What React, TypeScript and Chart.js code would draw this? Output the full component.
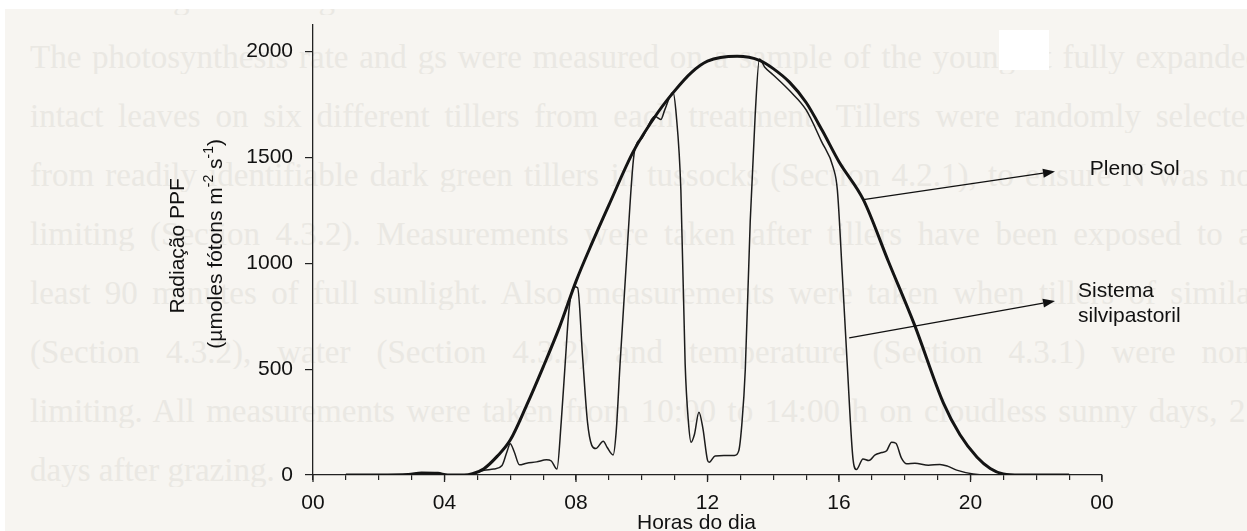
import React, { useEffect, useRef } from 'react';
import { Chart, registerables } from 'chart.js';

Chart.register(...registerables);

// ---------- data (hour of day, PPF in µmol m-2 s-1) ----------
const plenoSolHours = [1, 2, 2.9, 3.3, 3.8, 4.1, 4.6, 4.85, 5.2, 5.6, 6.0, 6.5, 7.0, 7.5, 8.0, 8.5, 9.0, 9.75, 10.5, 11.0, 11.5, 12.0, 12.9, 13.6, 14.0, 14.5, 15.0, 15.5, 16.0, 16.74, 17.5, 18.3, 19.17, 19.68, 20.2, 20.6, 21.0, 21.5, 22, 23];
const plenoSolValues = [0, 0, 2, 10, 8, 0, 0, 6, 30, 88, 165, 330, 510, 700, 915, 1100, 1275, 1530, 1715, 1815, 1900, 1955, 1978, 1958, 1920, 1855, 1760, 1625, 1480, 1301, 1010, 708, 342, 190, 84, 31, 5, 0, 0, 0];

const silviHours = [1, 2, 2.9, 3.3, 3.8, 4.1, 4.6, 4.85, 5.2, 5.5, 5.75, 5.9, 6.0, 6.12, 6.28, 6.5, 6.8, 7.1, 7.25, 7.42, 7.55, 7.67, 7.79, 7.95, 8.05, 8.2, 8.35, 8.48, 8.6, 8.83, 8.95, 9.13, 9.22, 9.34, 9.55, 9.78, 10.0, 10.4, 10.58, 10.7, 10.95, 11.05, 11.19, 11.32, 11.42, 11.5, 11.6, 11.74, 11.86, 12.0, 12.05, 12.23, 12.5, 12.82, 12.95, 13.05, 13.15, 13.3, 13.45, 13.58, 13.75, 14.0, 14.5, 15.0, 15.47, 15.83, 15.95, 16.1, 16.25, 16.43, 16.53, 16.73, 16.91, 17.1, 17.3, 17.45, 17.6, 17.73, 17.9, 18.06, 18.31, 18.72, 19.07, 19.3, 19.58, 20.08, 20.5, 21, 23];
const silviValues = [0, 0, 2, 10, 8, 0, 0, 5, 22, 28, 45, 110, 148, 110, 48, 56, 62, 72, 66, 28, 250, 525, 785, 890, 885, 560, 250, 140, 125, 160, 130, 95, 200, 525, 1050, 1530, 1590, 1695, 1680, 1725, 1808, 1700, 1347, 525, 250, 155, 190, 297, 220, 70, 60, 90, 92, 92, 114, 250, 500, 1200, 1700, 1965, 1925, 1890, 1815, 1725, 1575, 1450, 1347, 950, 525, 70, 26, 76, 68, 95, 106, 115, 155, 150, 80, 53, 56, 46, 50, 42, 23, 5, 0, 0, 0];

const seriesNames = ['Pleno Sol', 'Sistema silvipastoril'];
const hourTickValues = [0, 4, 8, 12, 16, 20, 24];
const hourTickLabels = ['00', '04', '08', '12', '16', '20', '00'];
const radiationTicks = [0, 500, 1000, 1500, 2000];
const xAxisTitle = 'Horas do dia';
const yAxisTitle = 'Radiação PPF';
const yAxisUnitParts = [
  { text: '(µmoles fótons m', sup: false },
  { text: '-2', sup: true },
  { text: ' s', sup: false },
  { text: '-1', sup: true },
  { text: ')', sup: false },
];

// annotation anchors, in data units (hour, PPF)
const annotations = {
  arrows: [
    { from: [16.74, 1301], to: [22.57, 1434] },
    { from: [16.31, 648], to: [22.57, 822] },
  ],
  labels: [
    { at: [23.63, 1443], lines: ['Pleno Sol'] },
    { at: [23.27, 810], lines: ['Sistema', 'silvipastoril'] },
  ],
};

// faded page text behind the figure (scanned document)
const pageLines = [
  '4.3.4  Leaf gas exchange measurements',
  'The photosynthesis rate and gs were measured on a sample of the youngest fully expanded',
  'intact leaves on six different tillers from each treatment. Tillers were randomly selected',
  'from readily identifiable dark green tillers in tussocks (Section 4.2.1), to ensure N was not',
  'limiting (Section 4.3.2). Measurements were taken after tillers have been exposed to at',
  'least 90 minutes of full sunlight. Also, measurements were taken when tillers of similar',
  '(Section 4.3.2), water (Section 4.3.2) and temperature (Section 4.3.1) were non-',
  'limiting. All measurements were taken from 10:00 to 14:00 h on cloudless sunny days, 21',
  'days after grazing.',
];

const SANS = '"Liberation Sans", Arial, sans-serif';

export default function App() {
  const canvasRef = useRef<HTMLCanvasElement>(null);

  useEffect(() => {
    document.body.style.margin = '0';
    const canvas = canvasRef.current;
    if (!canvas) return;

    const figurePlugin = {
      id: 'figureAnnotations',
      afterDraw(chart: any) {
        const ctx = chart.ctx as CanvasRenderingContext2D;
        const xs = chart.scales.x;
        const ys = chart.scales.y;
        const area = chart.chartArea;
        ctx.save();

        // longer major ticks
        ctx.strokeStyle = '#222';
        ctx.lineWidth = 1.3;
        hourTickValues.forEach((h) => {
          const px = xs.getPixelForValue(h);
          ctx.beginPath();
          ctx.moveTo(px, area.bottom);
          ctx.lineTo(px, area.bottom + 7);
          ctx.stroke();
        });

        // arrows
        ctx.strokeStyle = '#111';
        ctx.fillStyle = '#111';
        ctx.lineWidth = 1.3;
        annotations.arrows.forEach((a) => {
          const x1 = xs.getPixelForValue(a.from[0]);
          const y1 = ys.getPixelForValue(a.from[1]);
          const x2 = xs.getPixelForValue(a.to[0]);
          const y2 = ys.getPixelForValue(a.to[1]);
          const ang = Math.atan2(y2 - y1, x2 - x1);
          const headLen = 12;
          const headHalf = 4.5;
          const bx = x2 - headLen * Math.cos(ang);
          const by = y2 - headLen * Math.sin(ang);
          ctx.beginPath();
          ctx.moveTo(x1, y1);
          ctx.lineTo(bx, by);
          ctx.stroke();
          ctx.beginPath();
          ctx.moveTo(x2, y2);
          ctx.lineTo(bx + headHalf * Math.sin(ang), by - headHalf * Math.cos(ang));
          ctx.lineTo(bx - headHalf * Math.sin(ang), by + headHalf * Math.cos(ang));
          ctx.closePath();
          ctx.fill();
        });

        // series labels
        ctx.font = `21px ${SANS}`;
        ctx.textAlign = 'left';
        ctx.textBaseline = 'middle';
        annotations.labels.forEach((l) => {
          const x = xs.getPixelForValue(l.at[0]);
          const y = ys.getPixelForValue(l.at[1]);
          const lh = 25;
          l.lines.forEach((t, i) => {
            ctx.fillText(t, x, y + (i - (l.lines.length - 1) / 2) * lh);
          });
        });

        // x axis title
        ctx.textAlign = 'center';
        ctx.fillText(xAxisTitle, (area.left + area.right) / 2 - 11, area.bottom + 48);

        // y axis title (rotated, two lines)
        const cy = (area.top + area.bottom) / 2 - 4;
        ctx.save();
        ctx.translate(area.left - 135, cy);
        ctx.rotate(-Math.PI / 2);
        ctx.textAlign = 'center';
        ctx.fillText(yAxisTitle, 0, 0);
        ctx.restore();

        ctx.save();
        ctx.translate(area.left - 97, cy - 2);
        ctx.rotate(-Math.PI / 2);
        ctx.textAlign = 'left';
        const mainFont = `21px ${SANS}`;
        const supFont = `14px ${SANS}`;
        let total = 0;
        yAxisUnitParts.forEach((p) => {
          ctx.font = p.sup ? supFont : mainFont;
          total += ctx.measureText(p.text).width;
        });
        let cx = -total / 2;
        yAxisUnitParts.forEach((p) => {
          ctx.font = p.sup ? supFont : mainFont;
          ctx.fillText(p.text, cx, p.sup ? -7 : 0);
          cx += ctx.measureText(p.text).width;
        });
        ctx.restore();

        ctx.restore();
      },
    };

    const chart = new Chart(canvas, {
      type: 'line',
      data: {
        datasets: [
          {
            label: seriesNames[0],
            data: plenoSolHours.map((h, i) => ({ x: h, y: plenoSolValues[i] })),
            borderColor: '#141414',
            borderWidth: 3,
            pointRadius: 0,
            fill: false,
            cubicInterpolationMode: 'monotone',
          },
          {
            label: seriesNames[1],
            data: silviHours.map((h, i) => ({ x: h, y: silviValues[i] })),
            borderColor: '#1c1c1c',
            borderWidth: 1.5,
            pointRadius: 0,
            fill: false,
            cubicInterpolationMode: 'monotone',
          },
        ],
      },
      options: {
        responsive: false,
        animation: false,
        events: [],
        layout: { padding: { left: 0, top: 9, right: 145, bottom: 0 } },
        plugins: { legend: { display: false }, tooltip: { enabled: false } },
        scales: {
          x: {
            type: 'linear',
            min: 0,
            max: 24,
            afterBuildTicks: (s: any) => {
              const t: any[] = [];
              for (let h = 0; h <= 24; h++) t.push({ value: h });
              s.ticks = t;
            },
            afterFit: (s: any) => {
              s.height = 56;
            },
            grid: { drawOnChartArea: false, drawTicks: true, tickLength: 5, color: '#222', lineWidth: 1.2 },
            border: { display: true, color: '#222', width: 1.3 },
            ticks: {
              autoSkip: false,
              maxRotation: 0,
              padding: 11,
              color: '#111',
              font: { family: SANS, size: 21 },
              callback: (v: any) => {
                const i = hourTickValues.indexOf(Number(v));
                return i >= 0 ? hourTickLabels[i] : '';
              },
            },
          },
          y: {
            type: 'linear',
            min: 0,
            max: 2128,
            afterBuildTicks: (s: any) => {
              s.ticks = radiationTicks.map((v) => ({ value: v }));
            },
            afterFit: (s: any) => {
              s.width = 313;
            },
            grid: { drawOnChartArea: false, drawTicks: true, tickLength: 8, color: '#222', lineWidth: 1.2 },
            border: { display: true, color: '#222', width: 1.3 },
            ticks: {
              padding: 12,
              color: '#111',
              font: { family: SANS, size: 21 },
              callback: (v: any) => String(v),
            },
          },
        },
      },
      plugins: [figurePlugin],
    } as any);

    return () => chart.destroy();
  }, []);

  const baseline = (i: number) => (i === 0 ? 10 : 69 + 59 * (i - 1));

  return (
    <div style={{ position: 'absolute', left: 0, top: 0, width: 1247, height: 531, background: '#ffffff', overflow: 'hidden' }}>
      <div style={{ position: 'absolute', left: 5, top: 9, width: 1242, height: 522, background: 'rgb(247,245,241)', overflow: 'hidden' }}>
        {pageLines.map((t, i) => (
          <div
            key={i}
            style={{
              position: 'absolute',
              left: 30 - 5,
              top: baseline(i) - 27.6 - 9,
              width: 1232,
              height: 33,
              overflow: 'hidden',
              fontFamily: '"Liberation Serif", "Times New Roman", serif',
              fontSize: 33,
              lineHeight: '33px',
              color: 'rgb(234,232,227)',
              textAlign: i === 0 || i === pageLines.length - 1 ? 'left' : 'justify',
              textAlignLast: i === 0 || i === pageLines.length - 1 ? 'left' : 'justify',
            } as any}
          >
            {t}
          </div>
        ))}
      </div>
      <div style={{ position: 'absolute', left: 999, top: 30, width: 50, height: 40, background: '#ffffff' }} />
      <canvas ref={canvasRef} width={1247} height={531} style={{ position: 'absolute', left: 0, top: 0, display: 'block' }} />
    </div>
  );
}
